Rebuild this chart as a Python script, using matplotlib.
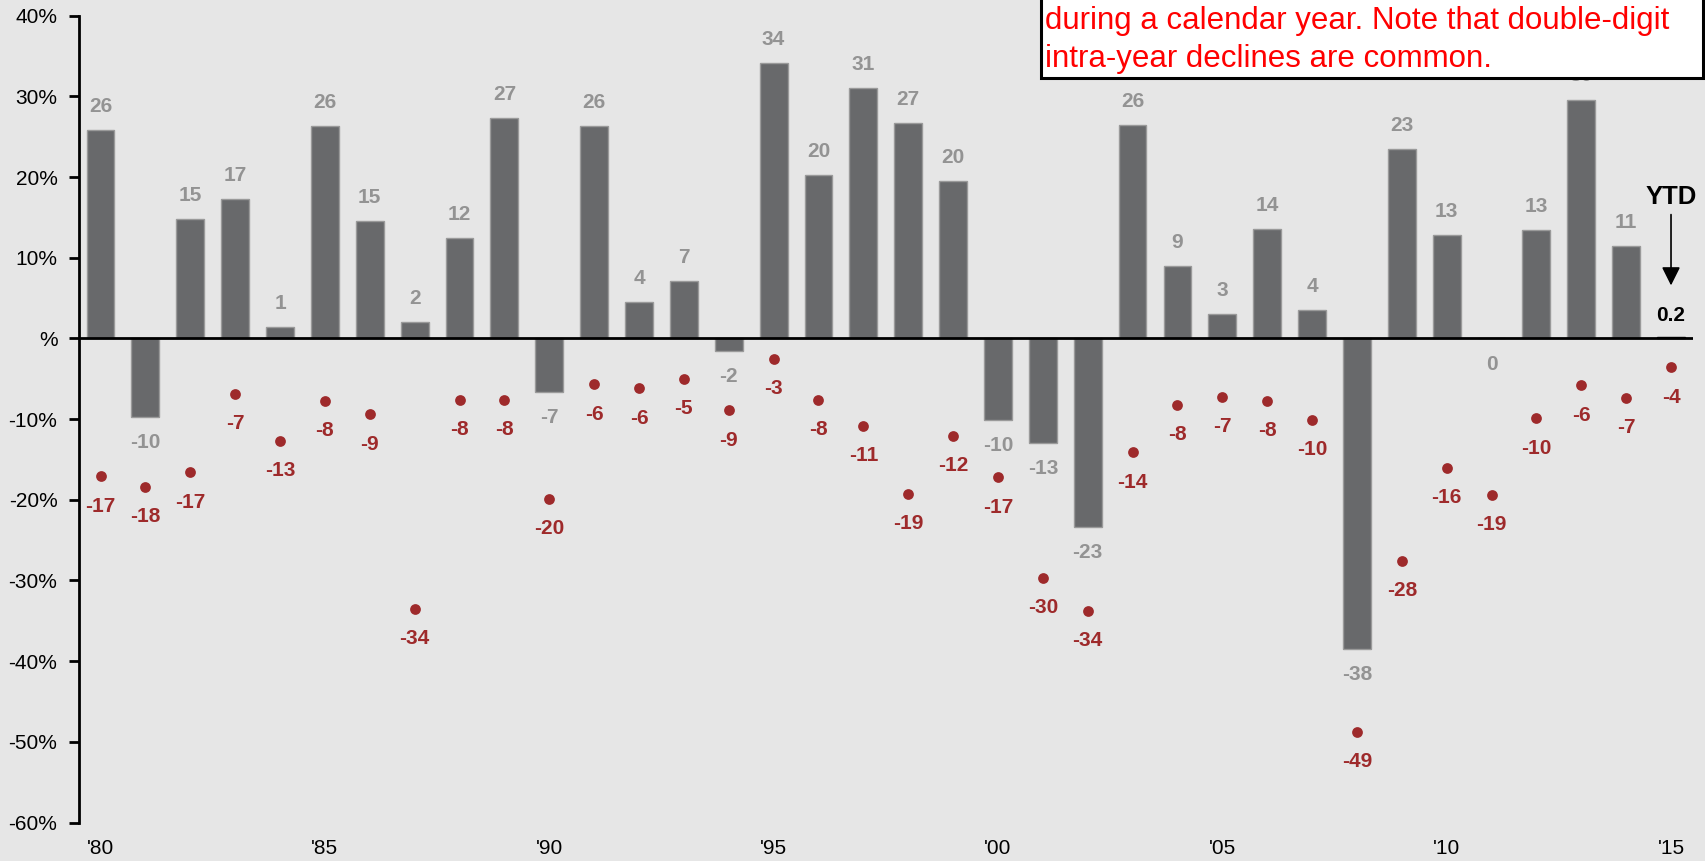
import matplotlib
matplotlib.use("Agg")
import matplotlib.pyplot as plt
from matplotlib.patches import Rectangle

plt.rcParams['font.family'] = ['Liberation Sans', 'DejaVu Sans']

years = list(range(1980, 2016))
annual_returns = [25.8, -9.7, 14.8, 17.3, 1.4, 26.3, 14.6, 2.0, 12.4, 27.3,
                  -6.6, 26.3, 4.5, 7.1, -1.5, 34.1, 20.3, 31.0, 26.7, 19.5,
                  -10.1, -13.0, -23.4, 26.4, 9.0, 3.0, 13.6, 3.5, -38.5, 23.5,
                  12.8, 0.0, 13.4, 29.6, 11.4, 0.2]
annual_labels = ["26", "-10", "15", "17", "1", "26", "15", "2", "12", "27",
                 "-7", "26", "4", "7", "-2", "34", "20", "31", "27", "20",
                 "-10", "-13", "-23", "26", "9", "3", "14", "4", "-38", "23",
                 "13", "0", "13", "30", "11", "0.2"]
intra_year_declines = [-17.1, -18.4, -16.6, -6.9, -12.7, -7.7, -9.4, -33.5, -7.6, -7.6,
                       -19.9, -5.7, -6.2, -5.0, -8.9, -2.5, -7.6, -10.8, -19.3, -12.1,
                       -17.2, -29.7, -33.8, -14.1, -8.2, -7.2, -7.7, -10.1, -48.8, -27.6,
                       -16.0, -19.4, -9.9, -5.8, -7.4, -3.6]
decline_labels = ["-17", "-18", "-17", "-7", "-13", "-8", "-9", "-34", "-8", "-8",
                  "-20", "-6", "-6", "-5", "-9", "-3", "-8", "-11", "-19", "-12",
                  "-17", "-30", "-34", "-14", "-8", "-7", "-8", "-10", "-49", "-28",
                  "-16", "-19", "-10", "-6", "-7", "-4"]
ytick_vals = [40, 30, 20, 10, 0, -10, -20, -30, -40, -50, -60]
ytick_labels = ["40%", "30%", "20%", "10%", "%", "-10%", "-20%", "-30%", "-40%", "-50%", "-60%"]
xtick_vals = [1980, 1985, 1990, 1995, 2000, 2005, 2010, 2015]
xtick_labels = ["'80", "'85", "'90", "'95", "'00", "'05", "'10", "'15"]
note_lines = ["during a calendar year. Note that double-digit",
              "intra-year declines are common."]

BG = "#E6E6E6"
BAR = "#68696B"
BAR_EDGE = "#9A9A9A"
BAR_LABEL = "#939393"
RED = "#9E2A2B"

W, H = 1706, 861
fig = plt.figure(figsize=(W / 100, H / 100), dpi=100, facecolor=BG)
ax = fig.add_axes([79 / W, 1 - 822.5 / H, (1693 - 79) / W, (822.5 - 15.7) / H])
ax.set_facecolor(BG)

colors = [BAR] * (len(years) - 1) + ["black"]
edges = [BAR_EDGE] * (len(years) - 1) + ["black"]
ax.bar(years, annual_returns, width=0.62, color=colors, edgecolor=edges, linewidth=1.0, zorder=2)
ax.axhline(0, color="black", linewidth=2.0, zorder=3)

ax.scatter(years, intra_year_declines, s=60, color=RED, zorder=4, linewidths=0)

for i, (yr, v, lab) in enumerate(zip(years, annual_returns, annual_labels)):
    if i == len(years) - 1:
        ax.annotate(lab, (yr, v), xytext=(0, 15), textcoords="offset points",
                    ha="center", va="center", fontsize=15, fontweight="bold", color="black", zorder=5)
        continue
    if v > 0:
        ax.annotate(lab, (yr, v), xytext=(0, 17), textcoords="offset points",
                    ha="center", va="center", fontsize=15, fontweight="bold", color=BAR_LABEL, zorder=5)
    else:
        ax.annotate(lab, (yr, v), xytext=(0, -18.5), textcoords="offset points",
                    ha="center", va="center", fontsize=15, fontweight="bold", color=BAR_LABEL, zorder=5)

for yr, v, lab in zip(years, intra_year_declines, decline_labels):
    ax.annotate(lab, (yr, v), xytext=(0, -21.5), textcoords="offset points",
                ha="center", va="center", fontsize=15, fontweight="bold", color=RED, zorder=5)

# YTD marker
ax.annotate("", xy=(years[-1], annual_returns[-1]), xycoords="data",
            xytext=(0, 88), textcoords="offset points",
            arrowprops=dict(arrowstyle="-|>,head_length=0.8,head_width=0.4", color="black",
                            lw=1.2, shrinkA=0, shrinkB=37, mutation_scale=14))
ax.annotate("YTD", (years[-1], annual_returns[-1]), xytext=(0, 101), textcoords="offset points",
            ha="center", va="center", fontsize=18.5, fontweight="bold", color="black")

ax.set_xlim(1979.52, 2015.49)
ax.set_ylim(-60, 40)
ax.set_yticks(ytick_vals)
ax.set_yticklabels(ytick_labels)
ax.set_xticks(xtick_vals)
ax.set_xticklabels(xtick_labels)
ax.tick_params(axis="y", length=7, width=2, pad=8.5, labelsize=15, colors="black")
ax.tick_params(axis="x", length=0, pad=12, labelsize=15, colors="black")
for s in ["top", "right", "bottom"]:
    ax.spines[s].set_visible(False)
ax.spines["left"].set_linewidth(2)
ax.spines["left"].set_color("black")

# Note box (partly cut off at the top)
box = Rectangle((1041 / W, 1 - 78 / H), (1703 - 1041) / W, 0.2, transform=fig.transFigure,
                facecolor="white", edgecolor="black", linewidth=2.2, zorder=10, clip_on=False)
fig.patches.append(box)
for k, line in enumerate(note_lines):
    fig.text(1045 / W, 1 - (20.5 + 38 * k) / H, line, ha="left", va="center",
             fontsize=22.5, color="#FF0000", zorder=11)

fig.savefig("out.png", dpi=100, facecolor=BG)
